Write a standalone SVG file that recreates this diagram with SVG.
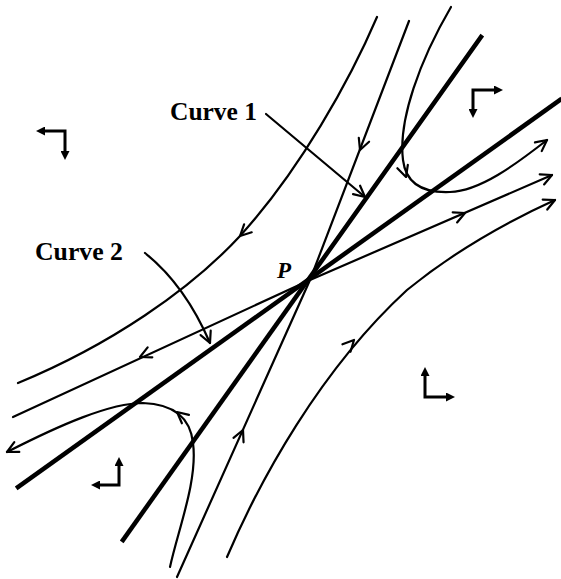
<svg xmlns="http://www.w3.org/2000/svg" xmlns:xlink="http://www.w3.org/1999/xlink" width="561" height="579" viewBox="0 0 561 579">
<style>
.thin{fill:none;stroke:#000;stroke-width:2.2;stroke-linecap:round;stroke-linejoin:round}
.thick{fill:none;stroke:#000;stroke-width:4.5;stroke-linecap:square}
.phase{fill:none;stroke:#000;stroke-width:3;marker-start:url(#tri);marker-end:url(#tri)}
.lbl{font-family:"Liberation Serif",serif;font-weight:bold;fill:#000}
</style>
<defs>
<marker id="tri" viewBox="0 0 10 10" refX="2" refY="5" markerWidth="9" markerHeight="9" markerUnits="userSpaceOnUse" orient="auto-start-reverse">
<path d="M0,0 L10,5 L0,10 z" fill="#000"/>
</marker>
<marker id="open" viewBox="-13 -7 15 14" refX="0" refY="0" markerWidth="15" markerHeight="14" markerUnits="userSpaceOnUse" orient="auto">
<path d="M-11,-5.5 L0,0 L-11,5.5" fill="none" stroke="#000" stroke-width="2.2" stroke-linecap="round" stroke-linejoin="round"/>
</marker>
<path id="chev" d="M-11,-5.5 L0,0 L-11,5.5" fill="none" stroke="#000" stroke-width="2.2" stroke-linecap="round" stroke-linejoin="round"/>
</defs>

<g id="curve1-line">
<line class="thick" x1="481" y1="37" x2="123" y2="540"/>
</g>
<g id="curve2-line">
<line class="thick" x1="560" y1="100" x2="18" y2="487"/>
</g>

<g id="connectors">
<path id="trajA" class="thin" d="M377,17 C350,80 300,170 240,236 C190,290 110,345 18,383"/>
<use xlink:href="#chev" href="#chev" transform="translate(240,236) rotate(136)"/>

<path id="trajB" class="thin" d="M409,21 L310,280 L177,577"/>
<use xlink:href="#chev" href="#chev" transform="translate(360,150) rotate(111)"/>
<use xlink:href="#chev" href="#chev" transform="translate(243,430) rotate(-66)"/>

<path id="trajC" class="thin" d="M451,7 C420,60 398,120 403,160 C406,185 425,193 450,192 C480,191 515,165 547,140" marker-end="url(#open)"/>
<use xlink:href="#chev" href="#chev" transform="translate(406,177) rotate(72)"/>

<path id="trajD" class="thin" d="M13,417 L310,280 L552,175" marker-end="url(#open)"/>
<use xlink:href="#chev" href="#chev" transform="translate(140,357) rotate(155)"/>
<use xlink:href="#chev" href="#chev" transform="translate(465,213) rotate(-23.5)"/>

<path id="trajE" class="thin" d="M227,557 C260,480 320,370 407,290 C450,255 500,225 555,200" marker-end="url(#open)"/>
<use xlink:href="#chev" href="#chev" transform="translate(354,340) rotate(-47)"/>

<path id="trajF" class="thin" d="M170,567 C178,530 198,480 193,443 C190,415 170,404 143,403 C110,403 60,425 7,452" marker-end="url(#open)"/>
<use xlink:href="#chev" href="#chev" transform="translate(177,412) rotate(-140)"/>

<path id="ptr1" class="thin" d="M266,114 L365,197" marker-end="url(#open)"/>
<path id="ptr2" class="thin" d="M145,253 Q185,285 210,343" marker-end="url(#open)"/>
</g>

<g id="phase-tl"><path class="phase" d="M43.2,131 H65 V152.8"/></g>
<g id="phase-tr"><path class="phase" d="M473,110.8 V90 H495.8"/></g>
<g id="phase-br"><path class="phase" d="M425,374.2 V397 H447.8"/></g>
<g id="phase-bl"><path class="phase" d="M119,464.2 V485 H98.2"/></g>

<g id="label-curve1"><text class="lbl" x="170" y="120" font-size="26" textLength="87" lengthAdjust="spacingAndGlyphs">Curve 1</text></g>
<g id="label-curve2"><text class="lbl" x="35" y="260" font-size="26" textLength="88" lengthAdjust="spacingAndGlyphs">Curve 2</text></g>
<g id="label-P"><text class="lbl" x="277" y="278" font-size="23" font-style="italic">P</text></g>
</svg>
